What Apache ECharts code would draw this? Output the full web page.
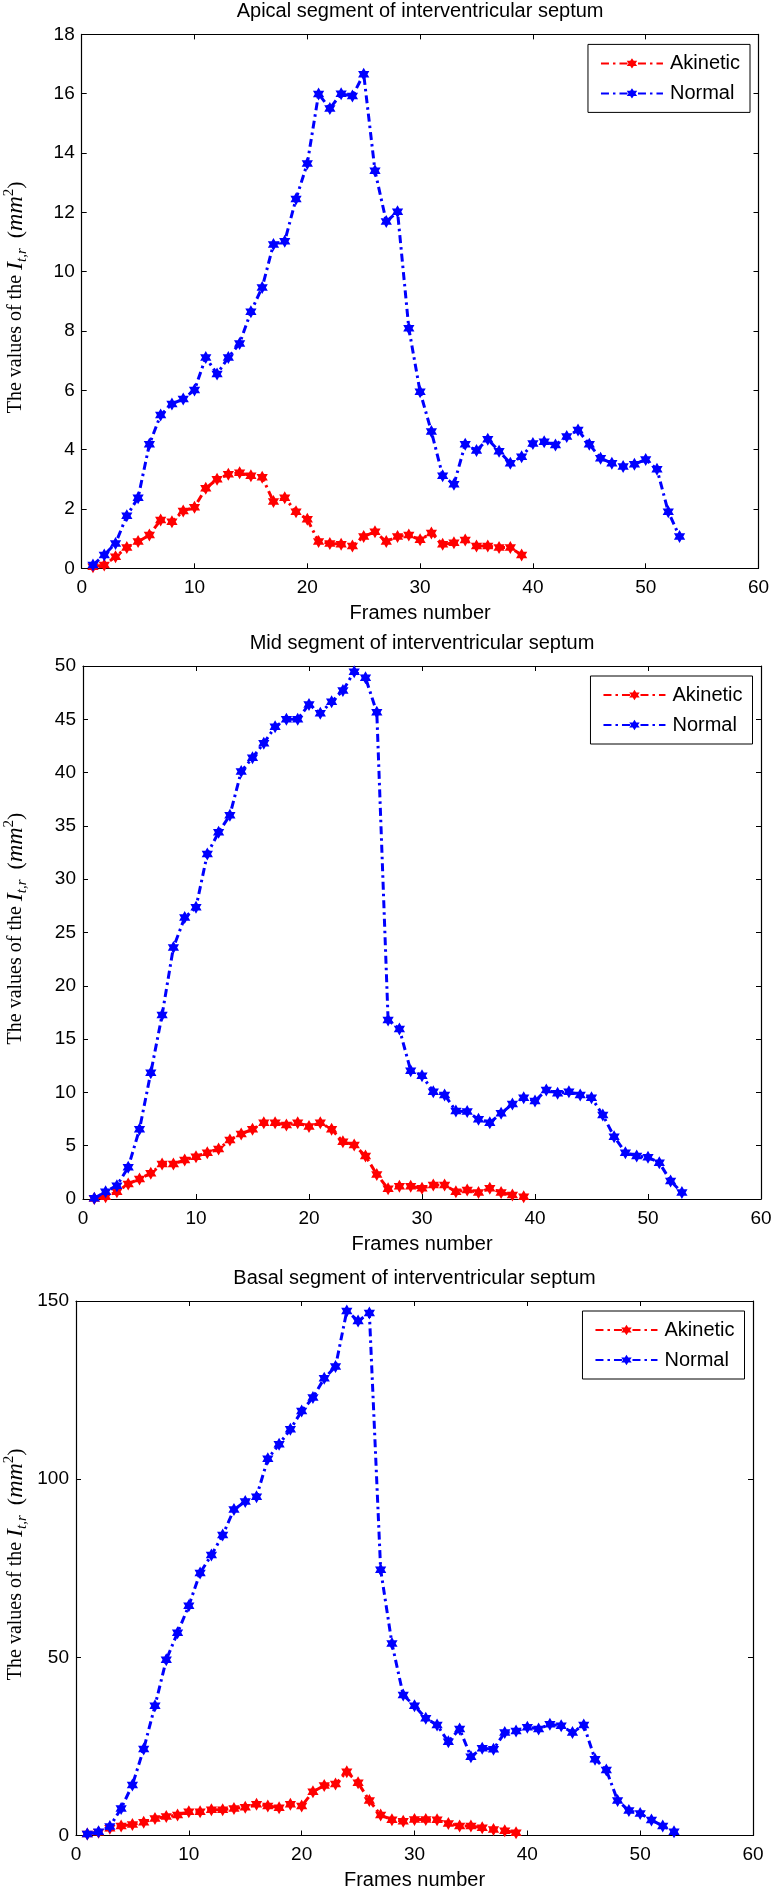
<!DOCTYPE html>
<html>
<head>
<meta charset="utf-8">
<script src="https://cdn.jsdelivr.net/npm/echarts@6/dist/echarts.min.js"></script>
<style>html,body{margin:0;padding:0;background:#fff}#c{width:776px;height:1892px}</style>
</head>
<body>
<div id="c"></div>
<script>
// ---------- data ----------
const frames = [1,2,3,4,5,6,7,8,9,10,11,12,13,14,15,16,17,18,19,20,21,22,23,24,25,26,27,28,29,30,31,32,33,34,35,36,37,38,39,40,41,42,43,44,45,46,47,48,49,50,51,52,53];
const xTicks = { min: 0, max: 60, interval: 10 };
const seriesNames = ['Akinetic', 'Normal'];
const plotTitles = [
  'Apical segment of interventricular septum',
  'Mid segment of interventricular septum',
  'Basal segment of interventricular septum'
];
const xAxisTitle = 'Frames number';
const yTicks = [
  { min: 0, max: 18, interval: 2 },
  { min: 0, max: 50, interval: 5 },
  { min: 0, max: 150, interval: 50 }
];

const apicalAkinetic = [0.05,0.11,0.39,0.70,0.90,1.12,1.63,1.57,1.93,2.06,2.70,3.00,3.17,3.22,3.12,3.07,2.25,2.38,1.91,1.65,0.90,0.84,0.81,0.75,1.07,1.23,0.90,1.07,1.12,0.96,1.19,0.81,0.86,0.95,0.75,0.75,0.70,0.70,0.45];
const apicalNormal = [0.11,0.45,0.84,1.77,2.38,4.18,5.17,5.54,5.71,6.01,7.11,6.55,7.11,7.58,8.65,9.47,10.92,11.03,12.45,13.65,15.99,15.50,16.00,15.92,16.66,13.40,11.69,12.02,8.09,5.95,4.61,3.12,2.83,4.18,3.97,4.35,3.95,3.54,3.76,4.21,4.27,4.16,4.44,4.66,4.18,3.71,3.54,3.43,3.51,3.67,3.34,1.91,1.07];

const midAkinetic = [0.05,0.20,0.69,1.41,1.88,2.41,3.28,3.28,3.66,3.97,4.35,4.69,5.53,6.10,6.54,7.16,7.16,6.94,7.16,6.79,7.16,6.54,5.38,5.07,4.03,2.31,0.95,1.19,1.19,1.00,1.31,1.31,0.69,0.84,0.62,1.00,0.62,0.37,0.22];
const midNormal = [0.06,0.69,1.25,2.97,6.54,11.85,17.26,23.60,26.40,27.36,32.36,34.40,36.00,40.10,41.40,42.75,44.30,45.00,45.00,46.40,45.56,46.65,47.70,49.47,48.90,45.65,16.80,15.95,12.04,11.57,10.07,9.76,8.26,8.20,7.47,7.16,8.04,8.91,9.50,9.19,10.23,9.91,10.07,9.76,9.50,7.88,5.85,4.35,4.03,3.91,3.41,1.69,0.60];

const basalAkinetic = [0.4,0.9,2.0,2.67,3.1,3.7,4.8,5.3,5.75,6.7,6.7,7.2,7.2,7.6,7.9,8.75,8.3,7.8,8.75,8.3,12.3,14.0,14.45,17.9,14.8,9.8,5.75,4.4,4.0,4.5,4.5,4.4,3.4,2.7,2.7,2.2,1.7,1.35,0.8];
const basalNormal = [0.4,1.07,2.5,7.6,14.2,24.3,36.4,49.3,56.9,64.5,73.7,78.7,84.3,91.5,93.7,95.1,105.7,109.8,114.0,119.1,122.9,128.3,131.6,147.2,144.4,146.6,74.6,53.9,39.4,36.4,32.9,31.0,26.3,29.9,22.1,24.5,24.2,28.9,29.3,30.4,29.9,31.2,30.8,28.9,31.0,21.4,18.4,9.8,7.0,6.2,4.35,2.7,1.07];

const plotData = [
  [apicalAkinetic, apicalNormal],
  [midAkinetic, midNormal],
  [basalAkinetic, basalNormal]
];

// ---------- layout & style ----------
const W = 776;
const layout = [
  { left: 81.7, top: 34.4, width: 676.8, height: 533.9 },
  { left: 83.0, top: 666.0, width: 678.0, height: 533.0 },
  { left: 76.0, top: 1301.0, width: 677.0, height: 534.5 }
];
const colors = ['#ff0000', '#0000ff'];
const SANS = "'Liberation Sans', Arial, Helvetica, sans-serif";
const SERIF = "'Liberation Serif', 'Times New Roman', serif";
const STAR = 'path://M10 0L12.887 5L18.66 5L15.774 10L18.66 15L12.887 15L10 20L7.113 15L1.34 15L4.226 10L1.34 5L7.113 5Z';
const dashDot = [8, 4, 2.5, 4];

const grid = [], xAxis = [], yAxis = [], series = [], legend = [], graphic = [];

layout.forEach((g, i) => {
  grid.push({ left: g.left, top: g.top, width: g.width, height: g.height, containLabel: false });
  const lineCommon = { show: true, onZero: false, lineStyle: { color: '#000', width: 1.2 } };
  const tickCommon = { show: true, inside: true, length: 5, lineStyle: { color: '#000', width: 1 } };
  xAxis.push({
    type: 'value', gridIndex: i, position: 'bottom',
    min: xTicks.min, max: xTicks.max, interval: xTicks.interval,
    axisLine: lineCommon, axisTick: tickCommon, splitLine: { show: false },
    axisLabel: { color: '#000', fontSize: 19, fontFamily: SANS, margin: 10 },
    name: xAxisTitle, nameLocation: 'middle', nameGap: 35,
    nameTextStyle: { color: '#000', fontSize: 20, fontFamily: SANS }
  });
  xAxis.push({
    type: 'value', gridIndex: i, position: 'top',
    min: xTicks.min, max: xTicks.max, interval: xTicks.interval,
    axisLine: lineCommon, axisTick: tickCommon, splitLine: { show: false },
    axisLabel: { show: false }
  });
  yAxis.push({
    type: 'value', gridIndex: i, position: 'left',
    min: yTicks[i].min, max: yTicks[i].max, interval: yTicks[i].interval,
    axisLine: lineCommon, axisTick: tickCommon, splitLine: { show: false },
    axisLabel: { color: '#000', fontSize: 19, fontFamily: SANS, margin: 7 }
  });
  yAxis.push({
    type: 'value', gridIndex: i, position: 'right',
    min: yTicks[i].min, max: yTicks[i].max, interval: yTicks[i].interval,
    axisLine: lineCommon, axisTick: tickCommon, splitLine: { show: false },
    axisLabel: { show: false }
  });

  plotData[i].forEach((vals, s) => {
    series.push({
      type: 'line', name: seriesNames[s],
      xAxisIndex: 2 * i, yAxisIndex: 2 * i,
      data: vals.map((v, k) => [frames[k], v]),
      symbol: STAR, symbolSize: 13, symbolKeepAspect: true,
      showSymbol: true,
      lineStyle: { color: colors[s], width: 3, type: dashDot },
      itemStyle: { color: colors[s] },
      z: 2 + s, animation: false
    });
  });

  legend.push({
    data: seriesNames,
    orient: 'vertical',
    right: W - (g.left + g.width) + 8.5,
    top: g.top + 10,
    itemWidth: 62, itemHeight: 13, itemGap: 6,
    padding: [7, 10, 7, 12],
    borderColor: '#000', borderWidth: 1, backgroundColor: '#fff',
    textStyle: { color: '#000', fontSize: 20, fontFamily: SANS, lineHeight: 24, padding: [0, 0, 0, 2] },
    selectedMode: false
  });

  graphic.push({
    type: 'text', x: g.left + g.width / 2, y: g.top - 23,
    style: { text: plotTitles[i], fill: '#000', font: '20px ' + SANS, align: 'center', verticalAlign: 'middle' }
  });

  graphic.push({
    type: 'text', x: 16, y: g.top + g.height / 2 - 4, rotation: Math.PI / 2,
    style: {
      text: '{n|The values of the }{m|I}{sub|t,r}{n|  }{p|(}{m|mm}{sup|2}{p|)}',
      align: 'center', verticalAlign: 'middle', fill: '#000',
      rich: {
        n: { fontFamily: SERIF, fontSize: 20, lineHeight: 28, fill: '#000' },
        p: { fontFamily: SERIF, fontSize: 22, lineHeight: 28, fill: '#000' },
        m: { fontFamily: SERIF, fontStyle: 'italic', fontSize: 24, lineHeight: 28, fill: '#000' },
        sub: { fontFamily: SERIF, fontStyle: 'italic', fontSize: 15, lineHeight: 13, verticalAlign: 'bottom', fill: '#000' },
        sup: { fontFamily: SERIF, fontSize: 15, lineHeight: 14, verticalAlign: 'top', fill: '#000' }
      }
    }
  });
});

const chart = echarts.init(document.getElementById('c'), null, { renderer: 'canvas' });
chart.setOption({
  animation: false,
  backgroundColor: '#fff',
  grid, xAxis, yAxis, series, legend, graphic
});
</script>
</body>
</html>
